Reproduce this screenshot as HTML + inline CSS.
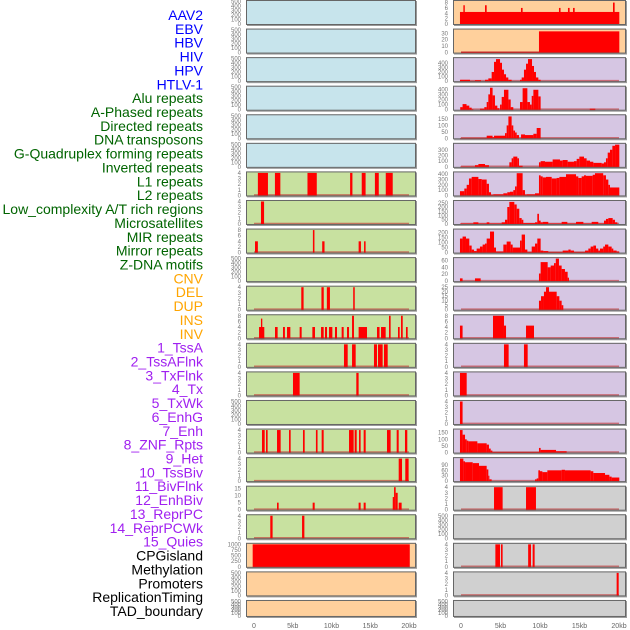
<!DOCTYPE html>
<html><head><meta charset="utf-8"><style>
html,body{margin:0;padding:0;background:#fff;}
svg{display:block;font-family:"Liberation Sans",sans-serif;}
</style></head><body>
<svg id="chart" width="630" height="630" viewBox="0 0 630 630"></svg>
<script>
const labels=["AAV2","EBV","HBV","HIV","HPV","HTLV-1","Alu repeats","A-Phased repeats","Directed repeats","DNA transposons","G-Quadruplex forming repeats","Inverted repeats","L1 repeats","L2 repeats","Low_complexity A/T rich regions","Microsatellites","MIR repeats","Mirror repeats","Z-DNA motifs","CNV","DEL","DUP","INS","INV","1_TssA","2_TssAFlnk","3_TxFlnk","4_Tx","5_TxWk","6_EnhG","7_Enh","8_ZNF_Rpts","9_Het","10_TssBiv","11_BivFlnk","12_EnhBiv","13_ReprPC","14_ReprPCWk","15_Quies","CPGisland","Methylation","Promoters","ReplicationTiming","TAD_boundary"];
const labelGroups=[6,13,5,15,5];
const xTicks=[0,5,10,15,20];
const xTickLabels=["0","5kb","10kb","15kb","20kb"];
const leftBg=["b","b","b","b","b","b","g","g","g","g","g","g","g","g","g","g","g","g","g","p","p","p"];
const rightBg=["p","p","v","v","v","v","v","v","v","v","v","v","v","v","v","v","v","g2","g2","g2","g2","g2"];
const leftYMax=[500,500,500,500,500,500,4,4,8,500,4,8,4,4,500,4,4,16,4,1000,500,500];
const rightYMax=[8.4,35,490,440,175,395,425,265,225,65,25,8,4,4,4,170,125,4,500,4,4,500];
const leftTicks=[[0,100,200,300,400,500],[0,100,200,300,400,500],[0,100,200,300,400,500],[0,100,200,300,400,500],[0,100,200,300,400,500],[0,100,200,300,400,500],[0,1,2,3,4],[0,1,2,3,4],[0,2,4,6,8],[0,100,200,300,400,500],[0,1,2,3,4],[0,2,4,6,8],[0,1,2,3,4],[0,1,2,3,4],[0,100,200,300,400,500],[0,1,2,3,4],[0,1,2,3,4],[0,5,10,15],[0,1,2,3,4],[0,250,500,750,1000],[0,100,200,300,400,500],[0,100,200,300,400,500]];
const rightTicks=[[0,2,4,6,8],[0,10,20,30],[0,100,200,300,400],[0,100,200,300,400],[0,50,100,150],[0,100,200,300],[0,100,200,300,400],[0,50,100,150,200,250],[0,50,100,150,200],[0,20,40,60],[0,5,10,15,20,25],[0,2,4,6,8],[0,1,2,3,4],[0,1,2,3,4],[0,1,2,3,4],[0,50,100,150],[0,30,60,90],[0,1,2,3,4],[0,100,200,300,400,500],[0,1,2,3,4],[0,1,2,3,4],[0,100,200,300,400,500]];
const leftSeg=[[],[],[],[],[],[],
[[0.5,1.8,4],[2.7,3.4,4],[6.9,8.1,4],[12.4,12.7,4],[13.9,14.4,4],[15.6,16.1,4],[17,17.9,4]],
[[0.9,1.3,4]],
[[0.13,0.5,4],[7.6,7.8,8],[8.8,9.1,4],[13.5,13.8,4],[14.2,14.4,4]],
[],
[[6.1,6.4,4],[8.7,9.0,4],[9.4,9.8,4],[12.8,13.0,4]],
[[0.65,1.33,4],[0.9,1.07,7],[2.71,3.05,4],[3.74,3.99,4],[4.26,4.69,4],[5.89,6.15,4],[7.53,7.87,4],[8.65,8.99,4],[9.16,9.42,4],[9.68,10.11,4],[10.45,10.71,4],[11.31,11.57,4],[12.0,12.26,4],[12.65,12.9,8],[13.5,14.58,4],[15.87,16.2,4],[16.39,16.99,4],[17.42,17.63,8],[18.58,18.8,4],[18.97,19.19,8],[19.61,19.83,4]],
[[11.61,12.09,4],[12.65,13.12,4],[15.48,15.87,4],[16.0,16.6,4],[16.77,17.25,4]],
[[5.03,5.89,4],[13.2,13.5,4]],
[],
[[1.03,1.38,4],[1.55,1.76,4],[2.97,3.44,4],[4.52,4.73,4],[6.32,6.54,4],[7.99,8.2,4],[8.73,8.99,4],[12.26,12.86,4],[12.99,13.25,4],[13.55,13.76,4],[14.15,14.41,4],[17.16,17.63,4],[18.41,18.67,4],[19.48,19.78,4]],
[[18.67,19.1,4],[19.52,19.95,4]],
[[2.97,3.18,5],[7.57,7.83,5],[13.5,13.76,5],[14.15,14.41,5],[17.9,18.07,9],[18.07,18.28,16],[18.28,18.54,12],[18.67,19.05,5]],
[[2.1,2.4,4],[6.2,6.5,4]],
[[-0.17,20.1,1000]],
[],[]];
const rightSeg=[
[[-0.13,20.04,4.5],[0.3,0.48,7],[3.04,3.25,7],[7.59,7.8,6],[12.4,12.6,6],[13.54,13.75,6],[14.18,14.39,6],[19.24,19.45,8]],
[[0,9.87,1],[9.87,20.04,33]],
[[-0.13,1.14,30],[1.14,1.77,5],[1.77,2.53,20],[3.04,3.46,30],[3.46,3.88,60],[3.88,4.18,200],[4.18,4.43,420],[4.43,4.94,480],[4.94,5.19,400],[5.19,5.44,250],[5.44,5.7,150],[5.7,5.99,80],[5.99,6.41,30],[7.47,7.68,30],[7.68,7.97,80],[7.97,8.23,250],[8.23,8.48,380],[8.48,8.99,480],[8.99,9.24,330],[9.24,9.49,200],[9.49,9.79,80],[9.79,10.08,30]],
[[-0.1,0.2,50],[0.2,0.7,110],[0.7,1.05,80],[1.05,1.35,40],[1.35,1.56,10],[2.4,2.95,20],[2.95,3.25,50],[3.25,3.46,150],[3.46,3.67,300],[3.67,4.0,430],[4.0,4.3,280],[4.3,4.6,80],[4.6,4.85,30],[4.94,5.15,100],[5.15,5.44,250],[5.44,6.0,390],[6.0,6.29,200],[6.29,6.62,50],[7.47,7.8,150],[7.8,8.4,420],[8.4,8.73,150],[8.73,8.95,100],[8.95,9.16,270],[9.16,9.79,390],[9.79,10.08,260],[16.3,17.0,20]],
[[-0.1,3.25,3],[3.25,4.0,20],[4.0,4.18,8],[4.18,5.57,20],[5.57,5.78,40],[5.78,6.0,100],[6.0,6.41,170],[6.41,6.62,100],[6.62,6.84,60],[6.84,7.05,45],[7.05,7.34,25],[7.6,8.1,30],[8.1,9.16,25],[9.16,9.58,35],[9.58,10.08,80]],
[[-0.1,1.77,5],[1.77,2.2,30],[2.2,3.04,50],[3.04,3.54,30],[6.12,6.41,80],[6.41,6.62,150],[6.62,7.13,180],[7.13,7.34,150],[7.34,7.8,20],[9.87,10.08,80],[10.08,10.63,100],[10.63,11.6,90],[11.6,12.53,130],[12.53,12.87,110],[12.87,13.5,120],[13.5,14.3,90],[14.3,14.64,100],[14.64,14.98,140],[14.98,15.57,180],[15.57,15.9,150],[15.9,16.33,110],[16.33,16.75,90],[16.75,17.8,70],[17.8,18.1,60],[18.1,18.35,80],[18.35,18.57,150],[18.57,18.86,250],[18.86,19.16,300],[19.16,19.5,370],[19.5,20.04,390]],
[[-0.13,0.42,80],[0.42,0.72,130],[0.72,1.01,200],[1.01,1.35,320],[1.35,2.2,350],[2.2,2.62,310],[2.62,3.25,300],[3.25,3.54,220],[3.54,3.8,60],[3.8,4.09,10],[4.09,5.36,20],[5.36,5.86,40],[5.86,6.2,60],[6.2,6.62,70],[6.62,6.84,100],[6.84,7.05,170],[7.05,7.8,420],[7.8,8.1,100],[8.1,8.31,15],[8.31,9.37,20],[9.37,9.87,40],[9.87,10.08,380],[10.08,10.34,360],[10.34,10.76,340],[10.76,11.48,350],[11.48,12.1,320],[12.1,12.45,330],[12.45,13.29,350],[13.29,14.56,400],[14.56,14.85,360],[14.85,15.27,330],[15.27,15.57,360],[15.57,15.82,380],[15.82,16.67,370],[16.67,16.96,390],[16.96,18.0,420],[18.0,18.35,380],[18.35,18.65,300],[18.65,18.86,200],[18.86,20.04,150]],
[[-0.13,1.56,5],[1.56,2.2,20],[2.2,3.25,5],[3.25,3.59,20],[3.59,5.15,5],[5.15,5.57,20],[5.57,5.86,50],[5.86,6.12,200],[6.12,6.75,260],[6.75,7.05,230],[7.05,7.38,180],[7.38,7.68,70],[7.68,7.89,50],[7.89,9.37,10],[9.37,9.66,20],[9.66,9.87,120],[9.87,10.08,40],[10.08,10.34,20],[10.34,11.05,25],[11.05,12.74,5],[12.74,13.46,25],[13.46,14.56,5],[14.56,15.49,25],[15.49,16.54,5],[16.54,17.38,25],[17.38,18.1,5],[18.1,18.35,40],[18.35,18.65,60],[18.65,19.2,70],[19.2,19.49,50],[19.49,19.79,20]],
[[-0.13,0.2,140],[0.2,0.63,160],[0.63,1.05,140],[1.05,1.35,70],[1.35,1.65,30],[1.65,1.98,15],[1.98,2.4,40],[2.4,2.74,60],[2.74,3.04,80],[3.04,3.25,90],[3.25,3.67,140],[3.67,4.18,210],[4.18,4.43,50],[4.43,5.36,10],[5.36,5.78,80],[5.78,6.29,110],[6.29,6.54,80],[6.54,7.47,50],[7.47,7.68,120],[7.68,8.1,180],[8.1,8.4,30],[8.4,8.95,5],[8.95,9.37,60],[9.37,9.66,90],[9.66,10.08,140],[10.08,10.42,20],[10.42,11.05,15],[11.05,12.87,5],[12.87,13.59,20],[13.59,13.88,30],[13.88,14.3,20],[14.3,15.7,5],[15.7,16.12,20],[16.12,16.41,40],[16.41,16.75,60],[16.75,17.09,70],[17.09,17.38,40],[17.38,17.59,20],[17.59,18.0,40],[18.0,18.23,60],[18.23,18.65,80],[18.65,19.07,60],[19.07,19.28,40],[19.28,19.7,20],[19.7,20.04,10]],
[[-0.13,0.2,8],[1.77,2.49,8],[9.87,10.08,22],[10.08,10.97,55],[10.97,11.35,40],[11.35,11.77,45],[11.77,12.0,52],[12.0,12.4,65],[12.4,12.74,45],[12.74,13.16,35],[13.16,13.5,27],[13.5,13.67,10]],
[[9.87,10.13,10],[10.13,10.5,15],[10.5,10.76,20],[10.76,11.14,25],[11.14,12.11,20],[12.11,12.45,15],[12.45,12.74,10],[12.74,12.95,5]],
[[-0.13,0.2,4.5],[4.05,5.44,8],[5.44,5.7,4.5],[8.23,9.24,4.5]],
[[5.44,6.03,4],[7.97,8.44,4]],
[[-0.13,0.72,4]],
[[-0.13,0.2,4]],
[[-0.13,0.2,170],[0.2,0.51,135],[0.51,0.72,100],[0.72,0.93,90],[0.93,2.07,85],[2.07,3.25,70],[3.25,3.54,60],[3.54,3.76,30],[3.76,3.97,15],[3.97,9.87,4],[9.87,10.08,35],[10.08,12.03,20],[12.03,13.37,10]],
[[-0.13,0.3,125],[0.3,0.51,110],[0.51,1.48,105],[1.48,2.28,100],[2.28,3.25,85],[3.25,3.46,65],[3.46,3.59,30],[3.59,3.88,10],[9.37,9.58,10],[9.58,9.79,15],[9.79,10.0,60],[10.0,10.3,55],[10.3,10.93,50],[10.93,12.74,60],[12.74,13.16,63],[13.16,16.41,60],[16.41,16.75,55],[16.75,18.23,45],[18.23,18.78,35],[18.78,19.07,25],[19.07,20.04,20]],
[[4.18,5.27,4],[8.23,9.49,4]],
[],
[[4.35,4.94,4],[5.06,5.27,4],[8.5,8.86,4],[9.07,9.32,4]],
[[19.7,19.96,4]],
[]];

const NS="http://www.w3.org/2000/svg";
const svg=document.getElementById('chart');
function mk(tag,attrs,parent){const e=document.createElementNS(NS,tag);for(const k in attrs)e.setAttribute(k,attrs[k]);(parent||svg).appendChild(e);return e;}
const bgColors={b:"#c7e4ec",g:"#c8e1a0",p:"#ffd09c",v:"#d6c6e3",g2:"#d0d0d0"};
const groupColors=["#0000ff","#006400","#ffa500","#a020f0","#000000"];

// labels
let li=0;
labelGroups.forEach((n,gi)=>{for(let k=0;k<n;k++){
  const t=mk('text',{x:203,y:15+li*13.86+5,'text-anchor':'end','font-size':14,fill:groupColors[gi]});
  t.textContent=labels[li];
  
  
  li++;}});

const cols=[{x0:246,x1:416,z0:254,z20:409,tickX:241,bg:leftBg,ymax:leftYMax,ticks:leftTicks,seg:leftSeg,name:'left'},
            {x0:453,x1:626,z0:461,z20:619,tickX:448,bg:rightBg,ymax:rightYMax,ticks:rightTicks,seg:rightSeg,name:'right'}];
cols.forEach((c,ci)=>{
  const xs=kb=>c.z0+(c.z20-c.z0)*kb/20;
  for(let r=0;r<22;r++){
    const top=r*28.57, h=(r===21?17:25);
    const y0=top+h-1, yt=top+1.5;
    const ym=c.ymax[r];
    const ys=v=>y0-(y0-yt)*v/ym;
    const g=mk('g',{});
    
    
    const clipId='clip'+ci+'_'+r;
    const cp=mk('clipPath',{id:clipId},g);
    mk('rect',{x:c.x0,y:top,width:c.x1-c.x0,height:h},cp);
    const bg=mk('rect',{x:c.x0+1,y:top+1,width:c.x1-c.x0,height:h,fill:'#999'},g);
    const bgr=mk('rect',{x:c.x0,y:top,width:c.x1-c.x0,height:h,fill:bgColors[c.bg[r]]},g);
    
    
    const segs=c.seg[r];
    const gg=mk('g',{'clip-path':'url(#'+clipId+')'},g);
    if(segs.length && !(ci===0&&r===19)){
      const bl=mk('line',{x1:xs(0),x2:xs(20),y1:y0-0.5,y2:y0-0.5,stroke:'#c03030','stroke-width':1.6,'stroke-opacity':0.6},gg);
      
      
    }
    segs.forEach(s=>{
      const a=xs(s[0]), b=xs(s[1]), yv=ys(s[2]);
      const rc=mk('rect',{x:a,y:yv,width:Math.max(0.8,b-a),height:y0-yv+1,fill:'#ff0000'},gg);
      
      
    });
    const br=mk('rect',{x:c.x0+0.5,y:top+0.5,width:c.x1-c.x0-1,height:h-1,fill:'none',stroke:'#666','stroke-width':1},g);
    
    
    c.ticks[r].forEach(v=>{
      const t=mk('text',{x:c.tickX,y:ys(v)+2,'text-anchor':'end','font-size':6,fill:'#777'},g);
      t.textContent=String(v);
      
      
    });
  }
  xTicks.forEach((v,i)=>{
    const t=mk('text',{x:xs(v),y:628,'text-anchor':'middle','font-size':7,fill:'#666'});
    t.textContent=xTickLabels[i];
    
    
  });
});
</script>
</body></html>
